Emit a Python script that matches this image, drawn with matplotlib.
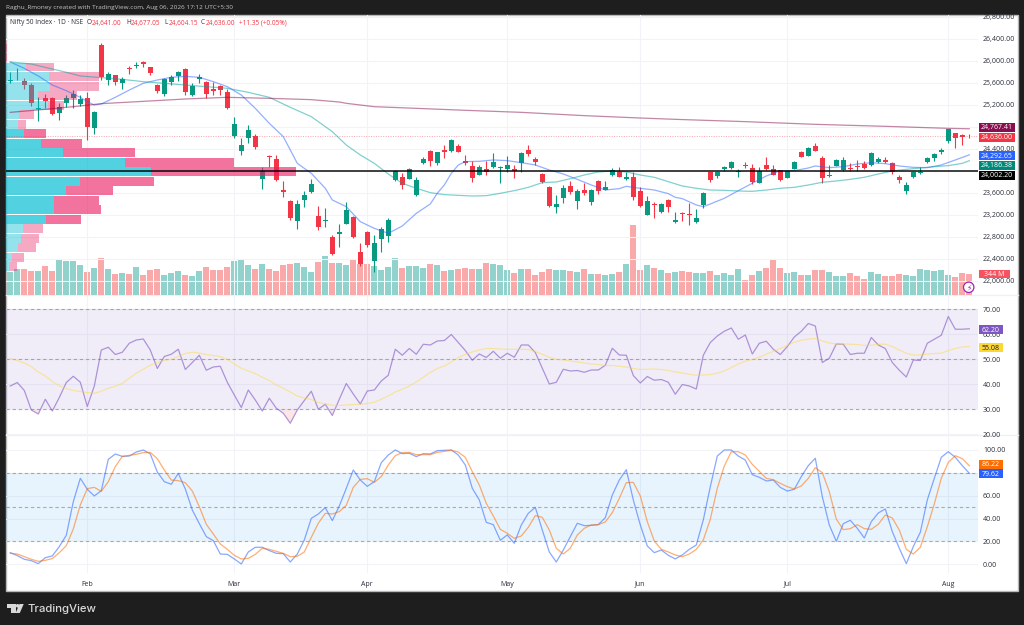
#!/usr/bin/env python3
import numpy as np
import matplotlib
matplotlib.use("Agg")
import matplotlib.pyplot as plt
import matplotlib.patches as mpatches

W, H = 1024, 625

# daily candles
opens = [
    25636, 25666, 25636, 25563, 25121, 25333, 25321, 25048, 25230, 25327,
    25218, 25321, 24788, 26297, 25654, 25739, 25594, 25872, 25903, 25987,
    25891, 25557, 25400, 25624, 25733, 25860, 25388, 25666, 25624, 25497,
    25545, 25442, 24636, 24363, 24600, 24642, 23848, 24272, 24212, 23654,
    23448, 23097, 23473, 23612, 23182, 23091, 22806, 22854, 23042, 23164,
    22527, 22891, 22364, 22764, 22824, 23836, 23891, 23860, 23570, 24139,
    24363, 24151, 24382, 24357, 24460, 24182, 24085, 23933, 24030, 24073,
    24060, 24036, 24036, 24151, 24382, 24218, 23951, 23715, 23339, 23509,
    23721, 23460, 23654, 23442, 23812, 23660, 23921, 23982, 23860, 23891,
    23636, 23206, 23400, 23260, 23467, 23067, 23230, 23218, 23079, 23388,
    23976, 23903, 24030, 24048, 23982, 24109, 24048, 23782, 24109, 24036,
    24012, 23873, 24036, 24351, 24279, 24454, 24242, 23909, 24097, 24018,
    24054, 24091, 24127, 24109, 24163, 24200, 24139, 23891, 23642, 23897,
    23957, 24157, 24230, 24339, 24551, 24685, 24654, 24641,
]
highs = [
    25806, 25866, 25684, 25594, 25350, 25394, 25351, 25230, 25381, 25472,
    25381, 25442, 25091, 26321, 25806, 25751, 25703, 25909, 25981, 26000,
    25897, 25581, 25684, 25745, 25812, 25872, 25594, 25757, 25630, 25624,
    25557, 25485, 24975, 24594, 24836, 24672, 24066, 24285, 24291, 23812,
    23473, 23473, 23642, 23854, 23364, 23333, 22830, 23036, 23442, 23176,
    22685, 22909, 22836, 22988, 23145, 24018, 23970, 24048, 23885, 24260,
    24382, 24351, 24472, 24576, 24497, 24291, 24182, 24109, 24188, 24321,
    24085, 24272, 24103, 24351, 24472, 24248, 23963, 23733, 23563, 23745,
    23818, 23667, 23776, 23667, 23836, 23824, 24048, 24079, 23988, 23988,
    23715, 23545, 23442, 23424, 23497, 23248, 23260, 23412, 23309, 23624,
    23988, 24000, 24097, 24182, 24030, 24163, 24127, 24079, 24248, 24103,
    24018, 24018, 24176, 24363, 24436, 24509, 24279, 24109, 24212, 24248,
    24139, 24200, 24188, 24351, 24248, 24248, 24163, 23927, 23806, 23994,
    24066, 24260, 24333, 24412, 24769, 24697, 24667, 24677,
]
lows = [
    25594, 25654, 25485, 25182, 24915, 25139, 25018, 24927, 25169, 25139,
    25182, 24563, 24672, 25654, 25563, 25563, 25485, 25763, 25866, 25884,
    25745, 25424, 25363, 25563, 25642, 25375, 25369, 25606, 25321, 25381,
    25381, 25133, 24600, 24291, 24515, 24406, 23679, 24066, 23818, 23533,
    23109, 22939, 23339, 23606, 22927, 22988, 22467, 22624, 23036, 22788,
    22279, 22612, 22170, 22533, 22709, 23818, 23679, 23848, 23545, 24127,
    24091, 24109, 24230, 24345, 24339, 24109, 23806, 23921, 23921, 24048,
    23788, 23988, 23879, 23988, 24272, 24109, 23782, 23345, 23242, 23424,
    23576, 23309, 23563, 23382, 23582, 23648, 23909, 23885, 23836, 23473,
    23339, 23194, 23145, 23242, 23260, 23054, 23097, 23018, 23060, 23321,
    23806, 23866, 23994, 24030, 23885, 24048, 23763, 23776, 24018, 23921,
    23812, 23866, 24030, 24248, 24272, 24357, 23788, 23897, 24091, 23994,
    24006, 24000, 24036, 24091, 24151, 24139, 23945, 23788, 23582, 23873,
    23945, 24139, 24188, 24309, 24503, 24412, 24479, 24604,
]
closes = [
    25654, 25678, 25563, 25230, 25145, 25272, 25030, 25157, 25321, 25400,
    25303, 24806, 25066, 25703, 25757, 25624, 25678, 25848, 25921, 25939,
    25781, 25448, 25666, 25709, 25800, 25436, 25551, 25703, 25406, 25454,
    25478, 25151, 24848, 24466, 24751, 24436, 24006, 24248, 23842, 23624,
    23139, 23394, 23563, 23757, 22988, 23109, 22491, 22897, 23297, 22800,
    22309, 22661, 22697, 22945, 23109, 23994, 23751, 24036, 23836, 24218,
    24188, 24339, 24345, 24557, 24351, 24145, 23879, 24066, 23988, 24163,
    24073, 24103, 24000, 24321, 24303, 24163, 23794, 23357, 23394, 23685,
    23624, 23636, 23606, 23648, 23642, 23709, 24012, 23897, 23891, 23533,
    23357, 23460, 23388, 23400, 23351, 23103, 23218, 23206, 23145, 23606,
    23830, 23976, 24073, 24163, 23994, 24097, 23806, 24006, 24036, 23933,
    23842, 23994, 24163, 24254, 24418, 24369, 23873, 23933, 24200, 24200,
    24030, 24073, 24048, 24321, 24224, 24170, 23988, 23842, 23745, 23976,
    23982, 24236, 24303, 24382, 24757, 24600, 24618, 24636,
]
# volume in millions
volumes = [
    382, 437, 437, 398, 398, 476, 398, 603, 564, 564,
    503, 376, 448, 619, 431, 343, 371, 354, 459, 326,
    409, 437, 326, 371, 404, 332, 310, 393, 459, 420,
    409, 459, 559, 586, 492, 431, 520, 437, 398, 492,
    514, 531, 465, 376, 542, 647, 536, 531, 492, 603,
    520, 509, 476, 415, 465, 619, 453, 476, 481, 453,
    509, 492, 404, 415, 437, 453, 426, 426, 536, 520,
    492, 409, 365, 426, 437, 332, 376, 437, 409, 415,
    404, 387, 426, 343, 343, 332, 343, 376, 520, 1156,
    415, 503, 448, 409, 365, 376, 398, 376, 359, 359,
    393, 326, 359, 337, 437, 254, 337, 393, 448, 575,
    448, 359, 376, 326, 326, 409, 420, 382, 310, 315,
    359, 310, 260, 382, 354, 315, 310, 348, 332, 315,
    426, 420, 404, 409, 337, 299, 359, 344,
]

# moving averages: bar index and level
ema20_bars = [
    0, 2, 4, 6, 8, 10, 11, 12, 13, 15, 17, 19, 21, 23, 25, 27, 29, 31, 33, 35,
    37, 39, 41, 43, 45, 46, 47, 48, 50, 52, 54, 56, 58, 60, 61, 62, 63, 64, 65,
    67, 69, 71, 73, 75, 77, 79, 81, 83, 85, 87, 88, 90, 92, 94, 95, 96, 98, 99,
    100, 102, 104, 106, 108, 110, 112, 114, 115, 117, 119, 121, 123, 125, 127,
    129, 131, 133, 135, 137,
]
ema20 = [
    25981, 25866, 25727, 25563, 25460, 25339, 25260, 25200, 25218, 25339, 25472,
    25594, 25654, 25703, 25721, 25703, 25624, 25533, 25381, 25139, 24866, 24624,
    24139, 23957, 23685, 23473, 23412, 23351, 23079, 22957, 22867, 23000, 23230,
    23400, 23594, 23745, 23957, 24109, 24170, 24176, 24200, 24188, 24151, 24109,
    24018, 23945, 23848, 23745, 23654, 23679, 23721, 23685, 23654, 23588, 23521,
    23497, 23382, 23351, 23400, 23503, 23642, 23776, 23909, 24006, 24006, 24054,
    24091, 24060, 24079, 24127, 24151, 24133, 24091, 24066, 24060, 24109, 24200,
    24292.65,
]
ema50_bars = [
    0, 3, 5, 8, 10, 13, 16, 19, 22, 25, 28, 31, 34, 37, 40, 43, 46, 48, 50, 52,
    54, 56, 58, 60, 62, 64, 66, 68, 70, 72, 74, 76, 78, 80, 82, 84, 86, 88, 90,
    92, 94, 96, 98, 100, 102, 104, 106, 108, 110, 112, 114, 116, 118, 120, 122,
    124, 126, 128, 130, 132, 134, 136, 137,
]
ema50 = [
    25981, 25945, 25884, 25794, 25727, 25697, 25666, 25624, 25594, 25563, 25533,
    25503, 25430, 25339, 25157, 24988, 24715, 24472, 24291, 24139, 23945, 23776,
    23685, 23606, 23570, 23557, 23545, 23551, 23594, 23642, 23703, 23788, 23800,
    23860, 23927, 23982, 24000, 23982, 23927, 23885, 23806, 23727, 23685, 23654,
    23648, 23636, 23630, 23654, 23685, 23703, 23745, 23794, 23818, 23848, 23885,
    23945, 24000, 24030, 24054, 24079, 24097, 24139, 24186.38,
]
ema200_bars = [
    0, 5, 10, 13, 19, 25, 31, 37, 43, 47, 48, 52, 58, 65, 73, 82, 90, 95,
    105, 115, 125, 134, 137,
]
ema200 = [
    25066, 25121, 25182, 25224, 25266, 25309, 25339, 25321, 25297, 25254, 25230,
    25169, 25139, 25103, 25066, 25006, 24963, 24939, 24897, 24848, 24812, 24775,
    24767.41,
]

# volume profile rows, top row first, relative size
vp_up = [
    0, 0, 20, 43.3, 44, 31.7, 41.7, 13.3, 12.3, 18, 34.7, 57,
    119, 145, 74, 60.3, 48, 48, 40, 17.3, 14.7, 11.7, 5.7, 3.3,
]
vp_down = [
    1.3, 1.3, 28, 50, 49.3, 39, 16.6, 15, 7.7, 22, 41.6, 72.3,
    108.7, 145, 74, 47, 44.7, 46.7, 34.7, 19.7, 18, 18, 12, 7.4,
]
vp_top, vp_bottom = 26321, 22170
vp_value_area = range(9, 19)

support_level = 24002.20
last_close = 24636.00

rsi = [
    39.3, 40.7, 37.5, 29.7, 28.1, 34.0, 29.3, 34.7, 40.7, 43.2,
    40.8, 31.1, 39.3, 53.7, 54.8, 51.9, 52.8, 56.4, 57.7, 58.1,
    53.7, 46.3, 51.1, 52.0, 54.0, 45.9, 48.7, 51.6, 45.6, 46.9,
    47.2, 40.8, 35.7, 30.7, 37.7, 33.7, 29.3, 34.4, 30.4, 28.4,
    24.4, 29.7, 33.5, 37.2, 30.0, 32.0, 27.5, 34.0, 40.3, 36.1,
    32.1, 37.3, 37.7, 41.3, 43.6, 54.0, 51.6, 54.3, 52.0, 56.0,
    55.7, 57.3, 57.5, 59.9, 56.7, 53.5, 49.6, 52.1, 50.7, 53.2,
    50.4, 52.4, 50.8, 55.7, 55.7, 52.7, 46.4, 40.1, 40.8, 46.0,
    45.3, 45.5, 44.8, 45.7, 45.7, 47.6, 54.4, 51.7, 51.6, 43.5,
    40.5, 43.1, 41.6, 41.9, 40.8, 36.0, 39.9, 39.3, 38.1, 51.6,
    56.7, 59.3, 61.2, 62.5, 58.0, 59.7, 52.1, 56.4, 57.2, 54.0,
    51.9, 55.1, 58.9, 61.2, 64.3, 63.3, 48.7, 50.4, 56.1, 56.0,
    51.9, 52.4, 52.4, 58.7, 55.7, 54.3, 48.7, 45.6, 42.9, 49.7,
    49.5, 56.4, 58.0, 59.6, 67.1, 62.0, 62.0, 62.20,
]
rsi_ma = [
    50.3, 49.5, 48.5, 47.1, 44.9, 43.3, 41.1, 39.3, 38.3, 37.5,
    37.1, 36.7, 36.4, 37.2, 38.4, 39.2, 40.3, 42.4, 44.4, 46.0,
    47.6, 48.7, 49.5, 50.0, 51.1, 52.3, 52.8, 52.5, 51.9, 51.5,
    51.1, 50.0, 48.1, 46.4, 45.3, 44.3, 42.8, 41.5, 39.7, 38.4,
    36.9, 35.3, 34.5, 33.9, 32.7, 32.1, 31.6, 31.5, 31.7, 31.9,
    32.0, 32.3, 32.8, 34.0, 35.3, 36.9, 38.0, 39.3, 40.9, 42.8,
    44.7, 46.3, 47.3, 48.9, 50.7, 52.0, 52.9, 53.7, 54.3, 54.3,
    54.1, 54.0,
    54.0, 54.0, 53.9, 53.1, 52.0, 50.8, 50.0, 49.7, 49.3, 48.9,
    48.5, 48.1, 47.9, 47.5, 47.5, 47.2, 46.9, 46.3, 45.9, 46.0,
    46.1, 45.9, 45.5, 44.9, 44.5, 44.0, 43.6, 43.7, 43.9, 44.4,
    45.3, 46.7, 48.1, 49.2, 49.9, 50.8, 52.0, 53.2, 54.3, 55.5,
    56.8, 57.6, 58.1, 58.3, 57.3, 56.5, 56.1, 56.1, 56.0, 55.9,
    55.5, 55.6, 56.0, 56.0, 55.1, 53.7, 52.4, 51.7, 51.7, 52.1,
    52.3, 52.4, 53.5, 54.3, 54.9, 55.08,
]
stoch_k = [
    10.2, 7.6, 4.4, 3.2, 0.6, 5.8, 7.3, 15.5, 25.4, 54.8,
    75.2, 65.6, 59.8, 64.4, 91.8, 96.5, 94.4, 94.7, 98.2, 100,
    96.5, 80.7, 72.3, 70.0, 79.6, 65.9, 47.5, 35.6, 24.2, 20.7,
    9.0, 8.7, 4.7, 0.3, 10.8, 14.9, 14.9, 12.0, 9.6, 9.3,
    2.0, 9.0, 21.3, 40.2, 44.0, 49.6, 38.2, 51.0, 66.5, 82.5,
    73.7, 68.2, 72.3, 88.9, 95.6, 100, 96.8, 97.1, 94.2, 96.8,
    96.5, 99.4, 99.7, 100, 95.6, 86.9, 66.5, 56.3, 36.7, 34.7,
    21.0, 25.7, 18.4, 34.4, 44.6, 49.8, 30.0, 10.8, 2.0, 12.5,
    24.2, 35.9, 33.8, 34.1, 34.7, 40.8, 60.6, 73.7, 82.8, 56.3,
    34.4, 16.0, 10.2, 12.5, 7.9, 4.7, 8.2, 13.1, 16.9, 38.8,
    67.9, 94.7, 100, 100, 94.7, 91.2, 78.4, 76.1, 72.9, 73.7,
    67.3, 64.1, 65.6, 76.7, 86.3, 92.7, 59.2, 34.4, 20.1, 35.6,
    38.5, 31.5, 23.0, 37.3, 44.9, 48.4, 28.6, 14.0, 0.6, 15.5,
    28.0, 56.3, 75.2, 93.6, 98.5, 93.6, 86.3, 79.62,
]
stoch_d = [
    9.6, 9.0, 6.7, 4.4, 2.6, 3.5, 5.0, 10.2, 16.3, 30.9,
    51.9, 66.2, 67.3, 63.8, 72.3, 85.4, 94.4, 95.3, 96.2, 97.7,
    97.9, 92.4, 82.5, 73.7, 73.2, 71.4, 64.1, 50.4, 35.0, 26.5,
    17.8, 13.1, 7.9, 4.7, 5.2, 8.7, 14.0, 13.1, 11.4, 9.6,
    6.7, 7.0, 10.8, 23.6, 35.9, 44.6, 44.0, 46.1, 51.6, 67.3,
    74.3, 74.9, 71.7, 76.7, 86.9, 95.0, 97.7, 97.9, 95.9, 95.9,
    95.9, 97.9, 98.8, 99.7, 98.2, 93.6, 81.0, 69.4, 53.3, 42.3,
    30.6, 27.1, 22.7, 24.8, 32.4, 42.6, 41.1, 30.0, 14.0, 9.0,
    14.0, 25.7, 31.5, 34.4, 34.7, 37.0, 45.2, 57.7, 71.4, 71.7,
    59.8, 37.3, 20.4, 13.1, 10.8, 8.2, 6.7, 9.0, 13.1, 21.3,
    39.4, 66.5, 86.0, 98.5, 98.5, 95.6, 87.4, 81.3, 75.2, 74.0,
    70.8, 67.9, 65.9, 68.5, 75.2, 84.5, 80.2, 63.5, 39.6, 30.3,
    31.2, 34.7, 31.2, 30.6, 35.0, 43.1, 40.5, 30.0, 13.1, 9.0,
    14.9, 32.9, 52.8, 75.2, 89.2, 95.0, 92.4, 86.22,
]

month_bars = [11, 32, 51, 71, 90, 111, 134]
month_names = ["Feb", "Mar", "Apr", "May", "Jun", "Jul", "Aug"]
price_ticks = list(range(22000, 27000, 400))
hidden_price_labels = {24000, 24800}   # covered by the last-value boxes
rsi_ticks = [20, 30, 40, 50, 60, 70]
stoch_ticks = [0, 20, 40, 60, 80, 100]
hidden_stoch_labels = {80}

# colours
DARK_BG = "#1e1e1e"
GREEN = "#089981"
RED = "#f23645"
VOL_GREEN = "#92d2cc"
VOL_RED = "#f9a9a9"
GRID = "#f1f3f8"
TEXT = "#2a2e39"
FONT = "Open Sans"
plt.rcParams["font.family"] = [FONT, "DejaVu Sans"]

AXIS_FS = 5.0
LEGEND_FS = 4.7
X_LEFT, X_PLOT, X_FRAME = 6, 978, 1018
BAR_PX, BAR0_PX = 7.0, 10.3
xlim = ((X_LEFT - BAR0_PX) / BAR_PX, (X_PLOT - BAR0_PX) / BAR_PX)


def pane(fig, top, bottom, ylim):
    ax = fig.add_axes([X_LEFT / W, 1 - bottom / H,
                       (X_PLOT - X_LEFT) / W, (bottom - top) / H])
    ax.set_xlim(*xlim)
    ax.set_ylim(*ylim)
    ax.patch.set_alpha(0)
    for spine in ax.spines.values():
        spine.set_visible(False)
    ax.yaxis.tick_right()
    ax.tick_params(axis="y", length=0, pad=3.6, labelsize=AXIS_FS, labelcolor=TEXT)
    ax.tick_params(axis="x", length=0, labelbottom=False)
    ax.set_xticks(month_bars)
    ax.grid(color=GRID, linewidth=0.8)
    ax.set_axisbelow(True)
    return ax


def dashed(ax, level):
    ax.axhline(level, color="#787b86", alpha=0.6, linewidth=0.8,
               dashes=(3, 2.5), zorder=2)


fig = plt.figure(figsize=(W / 100, H / 100), dpi=100, facecolor=DARK_BG)

# overlay in pixel coordinates for frame, captions and price boxes
bg = fig.add_axes([0, 0, 1, 1], zorder=0)
bg.set_xlim(0, W)
bg.set_ylim(H, 0)
bg.axis("off")
bg.add_patch(mpatches.Rectangle((X_LEFT, 15), X_FRAME - X_LEFT, 576,
                                facecolor="white", edgecolor="#b8b8b8", linewidth=1))
bg.plot([X_LEFT, X_FRAME], [295, 295], color="#f0f0f0", linewidth=1)
bg.plot([X_LEFT, X_FRAME], [435, 435], color="#f0f0f0", linewidth=1)

x = np.arange(len(closes))
o, h, l, c = map(np.array, (opens, highs, lows, closes))
up = c >= o

# volume sits behind the candles on its own scale
ax_vol = pane(fig, 15, 295, (0, 4650))
ax_vol.set_zorder(1)
ax_vol.set_yticks([])
ax_vol.grid(False)
ax_vol.bar(x, volumes, width=0.86, color=[VOL_GREEN if u else VOL_RED for u in up])

ax = pane(fig, 15, 295, (21745, 26836))
ax.set_zorder(2)
ax.set_yticks(price_ticks)
ax.set_yticklabels(["" if p in hidden_price_labels else f"{p:,.2f}" for p in price_ticks])

colors = np.where(up, GREEN, RED)
ax.vlines(x, l, h, colors=colors, linewidth=0.8, zorder=3)
ax.bar(x, np.abs(c - o), bottom=np.minimum(o, c), width=0.66, color=colors, zorder=3)

# volume profile over the candles, anchored on the left edge
edges = np.linspace(vp_top, vp_bottom, len(vp_up) + 1)
centers = (edges[:-1] + edges[1:]) / 2
row_h = (vp_top - vp_bottom) / len(vp_up) * 0.92
for k, (u, d) in enumerate(zip(vp_up, vp_down)):
    strong = k in vp_value_area
    a_up, a_down = (0.68, 0.62) if strong else (0.42, 0.38)
    ax.barh(centers[k], u / BAR_PX, left=xlim[0], height=row_h,
            color="#00bcd4", alpha=a_up, linewidth=0, zorder=4)
    ax.barh(centers[k], d / BAR_PX, left=xlim[0] + u / BAR_PX, height=row_h,
            color="#e91e63", alpha=a_down, linewidth=0, zorder=4)

ax.plot(ema20_bars, ema20, color="#2962ff", alpha=0.5, linewidth=0.9, zorder=5)
ax.plot(ema50_bars, ema50, color="#00a3a0", alpha=0.5, linewidth=0.9, zorder=5)
ax.plot(ema200_bars, ema200, color="#880e4f", alpha=0.5, linewidth=0.9, zorder=5)
ax.axhline(last_close, color=RED, alpha=0.45, linewidth=0.7, dashes=(1, 1.5), zorder=5)
ax.axhline(support_level, color="#000000", alpha=0.88, linewidth=1.2, zorder=6)

# RSI pane
ax_rsi = pane(fig, 295, 435, (19.7, 75.7))
ax_rsi.set_zorder(2)
ax_rsi.set_yticks(rsi_ticks)
ax_rsi.set_yticklabels([f"{t:.2f}" for t in rsi_ticks])
ax_rsi.axhspan(30, 70, color="#7e57c2", alpha=0.1, linewidth=0, zorder=1)
for level in (70, 50, 30):
    dashed(ax_rsi, level)
rsi_arr = np.array(rsi)
ax_rsi.fill_between(x, rsi_arr, 30, where=rsi_arr < 30, interpolate=True,
                    color="#f23645", alpha=0.12, linewidth=0, zorder=2)
ax_rsi.plot(x, rsi, color="#7e57c2", alpha=0.6, linewidth=0.9, zorder=3)
ax_rsi.plot(x, rsi_ma, color="#fdd835", alpha=0.45, linewidth=0.9, zorder=3)

# stochastic pane
ax_st = pane(fig, 435, 573, (-7.6, 113.1))
ax_st.set_zorder(2)
ax_st.set_yticks(stoch_ticks)
ax_st.set_yticklabels(["" if t in hidden_stoch_labels else f"{t:.2f}" for t in stoch_ticks])
ax_st.axhspan(20, 80, color="#2196f3", alpha=0.1, linewidth=0, zorder=1)
for level in (80, 50, 20):
    dashed(ax_st, level)
ax_st.plot(x, stoch_k, color="#2962ff", alpha=0.55, linewidth=0.9, zorder=3)
ax_st.plot(x, stoch_d, color="#ff6d00", alpha=0.55, linewidth=0.9, zorder=3)
ax_st.tick_params(axis="x", labelbottom=True, labelsize=AXIS_FS, labelcolor=TEXT, pad=5.5)
ax_st.set_xticklabels(month_names)

# top layer for boxes and text
top = fig.add_axes([0, 0, 1, 1], zorder=5)
top.set_xlim(0, W)
top.set_ylim(H, 0)
top.axis("off")


def price_box(x0, x1, yc, text, color, fg="white", height=9):
    top.add_patch(mpatches.Rectangle((x0, yc - height / 2), x1 - x0, height,
                                     facecolor=color, edgecolor="none"))
    top.text((x0 + x1) / 2, yc, text, color=fg, fontsize=AXIS_FS,
             ha="center", va="center_baseline")


price_box(979, 1015, 127, "24,767.41", "#880e4f")
price_box(979, 1015, 137, "24,636.00", RED)
price_box(979, 1015, 155.7, "24,292.65", "#2962ff")
price_box(979, 1015, 165, "24,186.38", "#00897b")
price_box(979, 1015, 175, "24,002.20", "#000000")
price_box(979, 1010, 274, "344 M", "#f7525f", height=8)
price_box(979, 1003, 329, "62.20", "#7e57c2")
price_box(979, 1003, 347, "55.08", "#fdd835", fg="#131722")
price_box(979, 1003, 464, "86.22", "#ff6d00")
price_box(979, 1003, 473.7, "79.62", "#2962ff")

# bolt badge on the volume pane
top.add_patch(mpatches.Circle((968.7, 287.3), 5.2, facecolor="white",
                              edgecolor="#9c27b0", linewidth=0.9))
top.text(968.7, 287.3, "\u26a1", color="#9c27b0", fontsize=5.5, ha="center",
         va="center", family="DejaVu Sans")

# header strip
top.text(6, 8, "Raghu_Rmoney created with TradingView.com, Aug 06, 2026 17:12 UTC+5:30",
         color="#c4c4c4", fontsize=4.55, va="center")
top.text(10, 23, "Nifty 50 Index \u00b7 1D \u00b7 NSE", color=TEXT, fontsize=LEGEND_FS, va="center")
for xt, label, value in [(87, "O", "24,641.00"), (126, "H", "24,677.05"),
                         (164, "L", "24,604.15"), (201, "C", "24,636.00")]:
    top.text(xt, 23, label, color=TEXT, fontsize=LEGEND_FS, va="center")
    top.text(xt + 5, 23, value, color=RED, fontsize=LEGEND_FS, va="center")
top.text(239, 23, "+11.35 (+0.05%)", color=RED, fontsize=LEGEND_FS, va="center")

# TradingView mark
LOGO = "#d9d9d9"
top.add_patch(mpatches.Polygon([(7, 604), (15.5, 604), (15.5, 613), (11, 613),
                                (11, 607.7), (7, 607.7)], facecolor=LOGO, edgecolor="none"))
top.add_patch(mpatches.Circle((17.6, 605.8), 1.8, facecolor=LOGO, edgecolor="none"))
top.add_patch(mpatches.Polygon([(19.5, 604), (23.7, 604), (19.8, 613), (15.6, 613)],
                               facecolor=LOGO, edgecolor="none"))
top.text(27, 608.5, "TradingView", color=LOGO, fontsize=8.2, va="center",
         family="Inter", fontweight="medium")

fig.savefig("out.png", dpi=100, facecolor=fig.get_facecolor())
plt.close(fig)
